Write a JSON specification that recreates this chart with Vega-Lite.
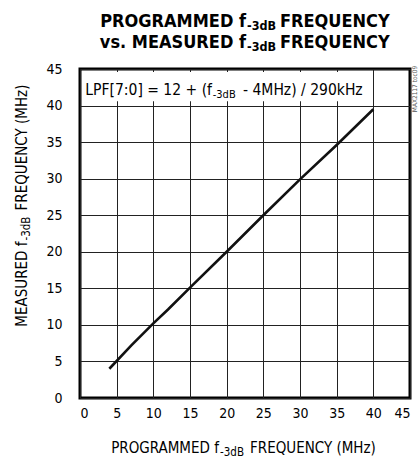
{
  "$schema": "https://vega.github.io/schema/vega-lite/v6.json",
  "autosize": {"type": "none"},
  "padding": {"left": 80, "top": 69, "right": 8, "bottom": 62},
  "width": 330,
  "height": 329,
  "background": "white",
  "config": {
    "font": "DejaVu Sans Condensed, sans-serif",
    "view": {"stroke": "#000", "strokeWidth": 3},
    "axis": {
      "grid": true, "gridColor": "#222", "gridWidth": 1, "gridOpacity": 1,
      "ticks": false, "domain": false, "title": null, "labelOverlap": false,
      "labelFont": "DejaVu Sans Condensed, sans-serif",
      "labelFontSize": 14, "labelColor": "#000", "labelFontWeight": "normal"
    }
  },
  "data": {"values": [
    {"programmed": 4, "measured": 4.0},
    {"programmed": 7, "measured": 7.2},
    {"programmed": 10, "measured": 10.2},
    {"programmed": 12, "measured": 12.1},
    {"programmed": 15, "measured": 15.1},
    {"programmed": 20, "measured": 20.0},
    {"programmed": 25, "measured": 25.0},
    {"programmed": 30, "measured": 29.9},
    {"programmed": 35, "measured": 34.6},
    {"programmed": 40, "measured": 39.5}
  ]},
  "layer": [
    {
      "data": {"values": [{}]},
      "mark": {"type": "rect", "fill": "white"},
      "encoding": {
        "x": {"datum": 0.6, "type": "quantitative", "axis": {"values": [0, 5, 10, 15, 20, 25, 30, 35, 40, 45], "labelPadding": 8}},
        "x2": {"datum": 37.9},
        "y": {"datum": 40.6, "type": "quantitative", "axis": {"values": [0, 5, 10, 15, 20, 25, 30, 35, 40, 45], "labelPadding": 18}},
        "y2": {"datum": 44.6}
      }
    },
    {
      "data": {"values": [{}]},
      "mark": {"type": "text", "text": "LPF[7:0] = 12 + (f", "align": "right", "baseline": "alphabetic", "fontSize": 15.5, "color": "#000"},
      "encoding": {"x": {"datum": 18.0, "type": "quantitative", "axis": {"values": [0, 5, 10, 15, 20, 25, 30, 35, 40, 45], "labelPadding": 8}}, "y": {"datum": 41.5, "type": "quantitative", "axis": {"values": [0, 5, 10, 15, 20, 25, 30, 35, 40, 45], "labelPadding": 18}}}
    },
    {
      "data": {"values": [{}]},
      "mark": {"type": "text", "text": "-3dB", "align": "left", "baseline": "alphabetic", "fontSize": 11, "color": "#000"},
      "encoding": {"x": {"datum": 18.1, "type": "quantitative", "axis": {"values": [0, 5, 10, 15, 20, 25, 30, 35, 40, 45], "labelPadding": 8}}, "y": {"datum": 41.0, "type": "quantitative", "axis": {"values": [0, 5, 10, 15, 20, 25, 30, 35, 40, 45], "labelPadding": 18}}}
    },
    {
      "data": {"values": [{}]},
      "mark": {"type": "text", "text": "- 4MHz) / 290kHz", "align": "left", "baseline": "alphabetic", "fontSize": 15.5, "color": "#000"},
      "encoding": {"x": {"datum": 22.23, "type": "quantitative", "axis": {"values": [0, 5, 10, 15, 20, 25, 30, 35, 40, 45], "labelPadding": 8}}, "y": {"datum": 41.5, "type": "quantitative", "axis": {"values": [0, 5, 10, 15, 20, 25, 30, 35, 40, 45], "labelPadding": 18}}}
    },
    {
      "data": {"values": [{}]},
      "mark": {"type": "text", "text": "PROGRAMMED f", "align": "right", "baseline": "alphabetic", "fontSize": 18, "fontWeight": "bold", "color": "#000"},
      "encoding": {"x": {"datum": 22.64, "type": "quantitative", "axis": {"values": [0, 5, 10, 15, 20, 25, 30, 35, 40, 45], "labelPadding": 8}}, "y": {"datum": 50.74, "type": "quantitative", "axis": {"values": [0, 5, 10, 15, 20, 25, 30, 35, 40, 45], "labelPadding": 18}}}
    },
    {
      "data": {"values": [{}]},
      "mark": {"type": "text", "text": "-3dB", "align": "left", "baseline": "alphabetic", "fontSize": 12.5, "fontWeight": "bold", "color": "#000"},
      "encoding": {"x": {"datum": 22.77, "type": "quantitative", "axis": {"values": [0, 5, 10, 15, 20, 25, 30, 35, 40, 45], "labelPadding": 8}}, "y": {"datum": 50.33, "type": "quantitative", "axis": {"values": [0, 5, 10, 15, 20, 25, 30, 35, 40, 45], "labelPadding": 18}}}
    },
    {
      "data": {"values": [{}]},
      "mark": {"type": "text", "text": "FREQUENCY", "align": "left", "baseline": "alphabetic", "fontSize": 18, "fontWeight": "bold", "color": "#000"},
      "encoding": {"x": {"datum": 27.27, "type": "quantitative", "axis": {"values": [0, 5, 10, 15, 20, 25, 30, 35, 40, 45], "labelPadding": 8}}, "y": {"datum": 50.74, "type": "quantitative", "axis": {"values": [0, 5, 10, 15, 20, 25, 30, 35, 40, 45], "labelPadding": 18}}}
    },
    {
      "data": {"values": [{}]},
      "mark": {"type": "text", "text": "vs. MEASURED f", "align": "right", "baseline": "alphabetic", "fontSize": 18, "fontWeight": "bold", "color": "#000"},
      "encoding": {"x": {"datum": 22.64, "type": "quantitative", "axis": {"values": [0, 5, 10, 15, 20, 25, 30, 35, 40, 45], "labelPadding": 8}}, "y": {"datum": 47.87, "type": "quantitative", "axis": {"values": [0, 5, 10, 15, 20, 25, 30, 35, 40, 45], "labelPadding": 18}}}
    },
    {
      "data": {"values": [{}]},
      "mark": {"type": "text", "text": "-3dB", "align": "left", "baseline": "alphabetic", "fontSize": 12.5, "fontWeight": "bold", "color": "#000"},
      "encoding": {"x": {"datum": 22.77, "type": "quantitative", "axis": {"values": [0, 5, 10, 15, 20, 25, 30, 35, 40, 45], "labelPadding": 8}}, "y": {"datum": 47.46, "type": "quantitative", "axis": {"values": [0, 5, 10, 15, 20, 25, 30, 35, 40, 45], "labelPadding": 18}}}
    },
    {
      "data": {"values": [{}]},
      "mark": {"type": "text", "text": "FREQUENCY", "align": "left", "baseline": "alphabetic", "fontSize": 18, "fontWeight": "bold", "color": "#000"},
      "encoding": {"x": {"datum": 27.27, "type": "quantitative", "axis": {"values": [0, 5, 10, 15, 20, 25, 30, 35, 40, 45], "labelPadding": 8}}, "y": {"datum": 47.87, "type": "quantitative", "axis": {"values": [0, 5, 10, 15, 20, 25, 30, 35, 40, 45], "labelPadding": 18}}}
    },
    {
      "data": {"values": [{}]},
      "mark": {"type": "text", "text": "PROGRAMMED f", "align": "right", "baseline": "alphabetic", "fontSize": 15, "color": "#000"},
      "encoding": {"x": {"datum": 18.95, "type": "quantitative", "axis": {"values": [0, 5, 10, 15, 20, 25, 30, 35, 40, 45], "labelPadding": 8}}, "y": {"datum": -7.52, "type": "quantitative", "axis": {"values": [0, 5, 10, 15, 20, 25, 30, 35, 40, 45], "labelPadding": 18}}}
    },
    {
      "data": {"values": [{}]},
      "mark": {"type": "text", "text": "-3dB", "align": "left", "baseline": "alphabetic", "fontSize": 11.5, "color": "#000"},
      "encoding": {"x": {"datum": 19.09, "type": "quantitative", "axis": {"values": [0, 5, 10, 15, 20, 25, 30, 35, 40, 45], "labelPadding": 8}}, "y": {"datum": -7.93, "type": "quantitative", "axis": {"values": [0, 5, 10, 15, 20, 25, 30, 35, 40, 45], "labelPadding": 18}}}
    },
    {
      "data": {"values": [{}]},
      "mark": {"type": "text", "text": "FREQUENCY (MHz)", "align": "left", "baseline": "alphabetic", "fontSize": 15, "color": "#000"},
      "encoding": {"x": {"datum": 23.18, "type": "quantitative", "axis": {"values": [0, 5, 10, 15, 20, 25, 30, 35, 40, 45], "labelPadding": 8}}, "y": {"datum": -7.52, "type": "quantitative", "axis": {"values": [0, 5, 10, 15, 20, 25, 30, 35, 40, 45], "labelPadding": 18}}}
    },
    {
      "data": {"values": [{}]},
      "mark": {"type": "text", "text": "MEASURED f", "align": "right", "baseline": "alphabetic", "angle": 270, "fontSize": 15, "color": "#000"},
      "encoding": {"x": {"datum": -7.23, "type": "quantitative", "axis": {"values": [0, 5, 10, 15, 20, 25, 30, 35, 40, 45], "labelPadding": 8}}, "y": {"datum": 21.41, "type": "quantitative", "axis": {"values": [0, 5, 10, 15, 20, 25, 30, 35, 40, 45], "labelPadding": 18}}}
    },
    {
      "data": {"values": [{}]},
      "mark": {"type": "text", "text": "-3dB", "align": "left", "baseline": "alphabetic", "angle": 270, "fontSize": 11.5, "color": "#000"},
      "encoding": {"x": {"datum": -6.82, "type": "quantitative", "axis": {"values": [0, 5, 10, 15, 20, 25, 30, 35, 40, 45], "labelPadding": 8}}, "y": {"datum": 21.54, "type": "quantitative", "axis": {"values": [0, 5, 10, 15, 20, 25, 30, 35, 40, 45], "labelPadding": 18}}}
    },
    {
      "data": {"values": [{}]},
      "mark": {"type": "text", "text": "FREQUENCY (MHz)", "align": "left", "baseline": "alphabetic", "angle": 270, "fontSize": 15, "color": "#000"},
      "encoding": {"x": {"datum": -7.23, "type": "quantitative", "axis": {"values": [0, 5, 10, 15, 20, 25, 30, 35, 40, 45], "labelPadding": 8}}, "y": {"datum": 25.65, "type": "quantitative", "axis": {"values": [0, 5, 10, 15, 20, 25, 30, 35, 40, 45], "labelPadding": 18}}}
    },
    {
      "data": {"values": [{}]},
      "mark": {"type": "text", "text": "MAX2117 toc09", "align": "left", "baseline": "alphabetic", "angle": 270, "fontSize": 6.5, "color": "#555"},
      "encoding": {"x": {"datum": 45.95, "type": "quantitative", "axis": {"values": [0, 5, 10, 15, 20, 25, 30, 35, 40, 45], "labelPadding": 8}}, "y": {"datum": 39.1, "type": "quantitative", "axis": {"values": [0, 5, 10, 15, 20, 25, 30, 35, 40, 45], "labelPadding": 18}}}
    },
    {
      "mark": {"type": "line", "color": "#111", "strokeWidth": 2.6},
      "encoding": {
        "x": {"field": "programmed", "type": "quantitative", "scale": {"domain": [0, 45], "nice": false},
              "axis": {"values": [0, 5, 10, 15, 20, 25, 30, 35, 40, 45], "labelPadding": 8}},
        "y": {"field": "measured", "type": "quantitative", "scale": {"domain": [0, 45], "nice": false},
              "axis": {"values": [0, 5, 10, 15, 20, 25, 30, 35, 40, 45], "labelPadding": 18}}
      }
    }
  ]
}
